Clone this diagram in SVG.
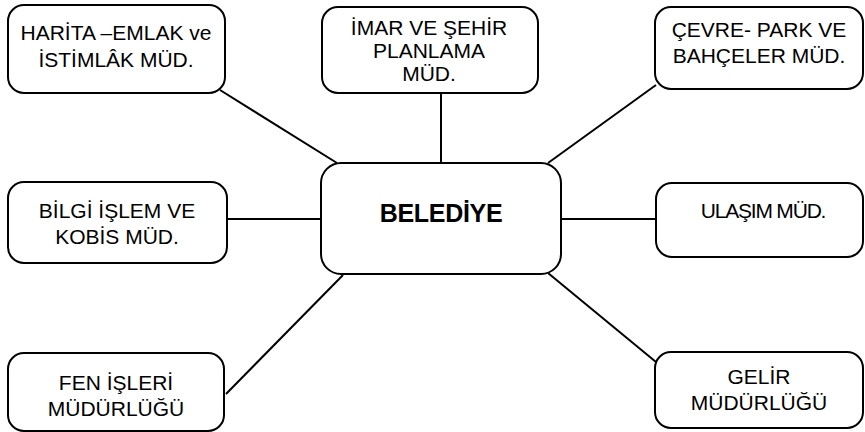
<svg xmlns="http://www.w3.org/2000/svg" width="865" height="432" viewBox="0 0 865 432">
<style>
.box{fill:#fff;stroke:#000;stroke-width:2}
.t{font-family:"Liberation Sans",Arial,sans-serif;font-size:21px;fill:#000;text-anchor:middle}
.b{font-weight:bold;font-size:25px;letter-spacing:-0.3px}
.c{stroke:#000;stroke-width:2;fill:none}
</style>
<rect width="865" height="432" fill="#fff"/>
<g id="connectors">
<line class="c" x1="220" y1="90" x2="337" y2="163"/>
<line class="c" x1="441" y1="93" x2="441" y2="163"/>
<line class="c" x1="656" y1="85" x2="548" y2="163"/>
<line class="c" x1="227" y1="219" x2="321" y2="219"/>
<line class="c" x1="561" y1="219" x2="656" y2="219"/>
<line class="c" x1="343" y1="275" x2="226" y2="394"/>
<line class="c" x1="548" y1="273" x2="656" y2="362"/>
</g>
<g id="belediye">
<rect class="box" x="321" y="163" width="240" height="111" rx="20"/>
<text class="t b" x="441" y="222">BELEDİYE</text>
</g>
<g id="harita">
<rect class="box" x="8" y="5" width="217" height="88" rx="16"/>
<text class="t" x="116" y="40">HARİTA –EMLAK ve</text>
<text class="t" x="116" y="67">İSTİMLÂK MÜD.</text>
</g>
<g id="imar">
<rect class="box" x="322" y="7" width="216" height="86" rx="16"/>
<text class="t" x="429" y="35">İMAR VE ŞEHİR</text>
<text class="t" x="429" y="58">PLANLAMA</text>
<text class="t" x="429" y="81">MÜD.</text>
</g>
<g id="cevre">
<rect class="box" x="655" y="7" width="208" height="82" rx="16"/>
<text class="t" x="759" y="37">ÇEVRE- PARK VE</text>
<text class="t" x="759" y="63">BAHÇELER MÜD.</text>
</g>
<g id="bilgi">
<rect class="box" x="8" y="182" width="219" height="81" rx="16"/>
<text class="t" x="117" y="218">BİLGİ İŞLEM VE</text>
<text class="t" x="117" y="244">KOBİS MÜD.</text>
</g>
<g id="ulasim">
<rect class="box" x="656" y="183" width="207" height="74" rx="16"/>
<text class="t" x="763" y="218" style="letter-spacing:-1.2px">ULAŞIM MÜD.</text>
</g>
<g id="fen">
<rect class="box" x="8" y="353" width="216" height="78" rx="16"/>
<text class="t" x="116" y="390">FEN İŞLERİ</text>
<text class="t" x="116" y="416">MÜDÜRLÜĞÜ</text>
</g>
<g id="gelir">
<rect class="box" x="655" y="352" width="208" height="76" rx="16"/>
<text class="t" x="759" y="384">GELİR</text>
<text class="t" x="759" y="410">MÜDÜRLÜĞÜ</text>
</g>
</svg>
